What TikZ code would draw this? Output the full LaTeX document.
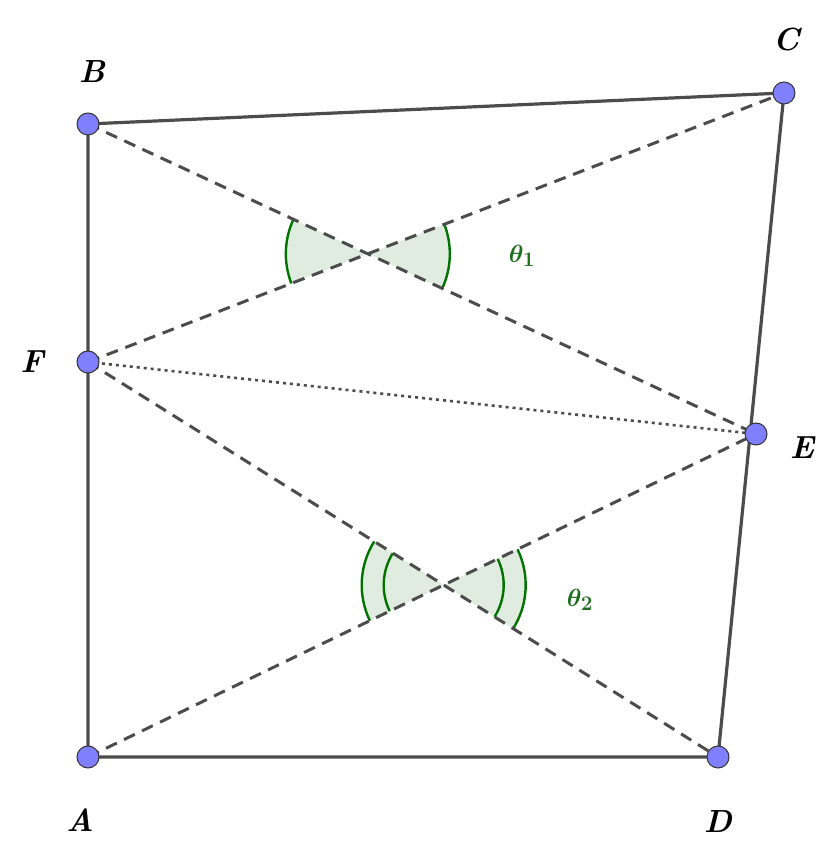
\documentclass[tikz,border=0pt]{standalone}
\usetikzlibrary{angles}
\definecolor{thgreen}{RGB}{30,110,30}
\begin{document}
\begin{tikzpicture}[x=1pt,y=1pt,
  solidl/.style={draw=black!70,line width=3.2pt},
  dashl/.style={draw=black!70,line width=3pt,dash pattern=on 12pt off 8pt},
  dotl/.style={draw=black!70,line width=2.6pt,dash pattern=on 3pt off 4pt},
  pt/.style={circle,draw=black!80,fill=blue!50!white,line width=1pt,inner sep=0pt,minimum size=22pt},
  lab/.style={font=\fontsize{32}{36}\selectfont\bfseries\itshape},
  thlab/.style={text=thgreen,font=\fontsize{32}{36}\selectfont\boldmath},
  ang/.style={draw=green!45!black,line width=2.4pt,fill=green!40!black,fill opacity=0.12}]
\useasboundingbox (0,0) rectangle (836,856);
\coordinate (A) at (88,99);
\coordinate (B) at (88,732);
\coordinate (C) at (784,763);
\coordinate (D) at (718,99);
\coordinate (E) at (756,422);
\coordinate (F) at (88,494);
\coordinate (X) at (intersection of B--E and F--C);
\coordinate (Y) at (intersection of F--D and A--E);
\pic[ang,angle radius=82pt] {angle=B--X--F};
\pic[ang,angle radius=82pt] {angle=E--X--C};
\pic[ang,angle radius=82pt] {angle=F--Y--A};
\pic[ang,angle radius=82pt] {angle=D--Y--E};
\pic[draw=green!45!black,line width=2.4pt,angle radius=60pt] {angle=F--Y--A};
\pic[draw=green!45!black,line width=2.4pt,angle radius=60pt] {angle=D--Y--E};
\draw[solidl] (A) -- (B) -- (C) -- (D) -- (A);
\draw[dashl] (B) -- (E);
\draw[dashl] (F) -- (C);
\draw[dashl] (F) -- (D);
\draw[dashl] (A) -- (E);
\draw[dotl] (F) -- (E);
\node[pt] (nA) at (A) {};
\node[pt] (nB) at (B) {};
\node[pt] (nC) at (C) {};
\node[pt] (nD) at (D) {};
\node[pt] (nE) at (E) {};
\node[pt] (nF) at (F) {};
\node[lab] (lA) at (80,36) {A};
\node[lab] (lB) at (92,784) {B};
\node[lab] (lC) at (786,816) {C};
\node[lab] (lD) at (718,34) {D};
\node[lab] (lE) at (802,408) {E};
\node[lab] (lF) at (32,494) {F};
\node[thlab] (t1) at (522,600) {$\theta_1$};
\node[thlab] (t2) at (580,256) {$\theta_2$};
\end{tikzpicture}
\end{document}
